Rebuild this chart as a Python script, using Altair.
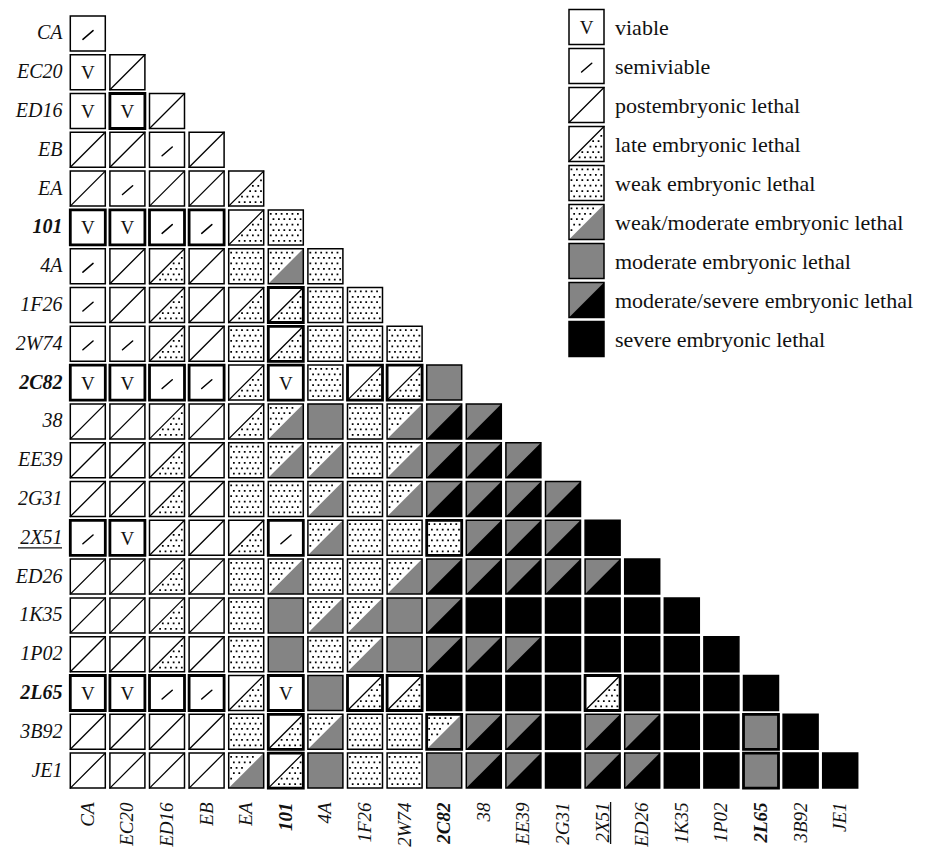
import altair as alt
import pandas as pd

# ---------------- data ----------------
alleles = ["CA", "EC20", "ED16", "EB", "EA", "101", "4A", "1F26", "2W74", "2C82",
           "38", "EE39", "2G31", "2X51", "ED26", "1K35", "1P02", "2L65", "3B92", "JE1"]
bold_alleles = ["101", "2C82", "2L65"]
underlined_allele = "2X51"

# phenotype of each trans-heterozygote: row allele x column allele (lower triangle)
# V viable, S semiviable, P postembryonic lethal, L late embryonic lethal,
# W weak, WM weak/moderate, M moderate, MS moderate/severe, X severe embryonic lethal
phenotype_rows = [
    "S",
    "V P",
    "V V P",
    "P P S P",
    "P S P P L",
    "V V S S L W",
    "S P L P W WM W",
    "S P L P L L W W",
    "S S L P W L W W W",
    "V V S S L V W L L M",
    "P P L P L WM M W WM MS MS",
    "P P L P W WM WM W WM MS MS MS",
    "P P L P W W WM W WM MS MS MS MS",
    "S V L P L S WM W W W MS MS MS X",
    "P P L P W WM W W WM MS MS MS MS MS X",
    "P P L P W M WM WM M MS X X X X X X",
    "P P L P W M W WM M MS MS MS X X X X X",
    "V V S S L V M L L X X X X L X X X X",
    "P P P P W L WM W W WM MS MS X MS MS X X M X",
    "P P P P WM L M W W M MS MS X MS MS X X M X X",
]

# boxes drawn with a heavy outline
thick_border_cells = [
    ("ED16", "EC20"),
    ("101", "CA"), ("101", "EC20"), ("101", "ED16"), ("101", "EB"),
    ("1F26", "101"), ("2W74", "101"),
    ("2C82", "CA"), ("2C82", "EC20"), ("2C82", "ED16"), ("2C82", "EB"),
    ("2C82", "101"), ("2C82", "1F26"), ("2C82", "2W74"),
    ("2X51", "CA"), ("2X51", "EC20"), ("2X51", "101"), ("2X51", "2C82"),
    ("2L65", "CA"), ("2L65", "EC20"), ("2L65", "ED16"), ("2L65", "EB"),
    ("2L65", "101"), ("2L65", "1F26"), ("2L65", "2W74"), ("2L65", "2X51"),
    ("3B92", "101"), ("3B92", "2C82"), ("3B92", "2L65"),
    ("JE1", "101"), ("JE1", "2L65"),
]

legend_codes = ["V", "S", "P", "L", "W", "WM", "M", "MS", "X"]
legend_labels = ["viable", "semiviable", "postembryonic lethal", "late embryonic lethal",
                 "weak embryonic lethal", "weak/moderate embryonic lethal",
                 "moderate embryonic lethal", "moderate/severe embryonic lethal",
                 "severe embryonic lethal"]

# ---------------- styles ----------------
FONT = "Liberation Serif"
CELL = 35
SIZE = CELL * CELL
W, H = 792, 776
XLAB_PAD = 12


def dot_path(region):
    parts = []
    step, d = 0.31, 0.05
    for r in range(6):
        yy = -0.78 + r * step
        off = 0 if r % 2 == 0 else step / 2
        for c in range(7):
            xx = -0.86 + off + c * step
            if xx > 0.9:
                continue
            s = xx + yy
            if region == "lr" and s < 0.18:
                continue
            if region == "ul" and s > -0.18:
                continue
            parts.append(f"M{xx - d:.3f},{yy - d:.3f}h{2 * d:.3f}v{2 * d:.3f}h{-2 * d:.3f}Z")
    return "".join(parts)


shape_paths = {
    "full": "M-1,-1H1V1H-1Z",
    "lr": "M1,-1V1H-1Z",
    "diag": "M-1,1L1,-1",
    "slash": "M-0.28,0.34L0.3,-0.16",
    "dots_full": dot_path("full"),
    "dots_lr": dot_path("lr"),
    "dots_ul": dot_path("ul"),
}
shape_scale = alt.Scale(domain=list(shape_paths), range=list(shape_paths.values()))
fill_scale = alt.Scale(domain=["white", "gray", "black"], range=["#ffffff", "#848484", "#000000"])

fill_parts = {
    "V": ["full:white"], "S": ["full:white"], "P": ["full:white"],
    "L": ["full:white"], "W": ["full:white"],
    "WM": ["full:white", "lr:gray"],
    "M": ["full:gray"],
    "MS": ["full:gray", "lr:black"],
    "X": ["full:black"],
}
dot_parts = {"L": ["dots_lr:black"], "W": ["dots_full:black"], "WM": ["dots_ul:black"]}
line_parts = {"P": ["diag:black"], "L": ["diag:black"], "S": ["slash:black"]}
line_widths = {"diag": 1.3, "slash": 1.5}

thick = set(thick_border_cells)
recs = []
for i, r in enumerate(alleles):
    for j, code in enumerate(phenotype_rows[i].split()):
        c = alleles[j]
        recs.append({"row": r, "col": c, "code": code,
                     "bw": 2.8 if (r, c) in thick else 1.5})
cells = pd.DataFrame(recs)
legend_df = pd.DataFrame({"row": legend_labels, "col": "", "code": legend_codes, "bw": 1.5})


def explode(df, parts):
    out = []
    for rec in df.to_dict("records"):
        for p in parts.get(rec["code"], []):
            shp, fl = p.split(":")
            out.append({**rec, "shape": shp, "fill": fl, "sw": line_widths.get(shp, 1.3)})
    return pd.DataFrame(out)


shape_enc = alt.Shape("shape:N", scale=shape_scale, legend=None)


def cell_layers(df, x, y):
    fills = alt.Chart(explode(df, fill_parts)).mark_point(
        filled=True, opacity=1, strokeWidth=0, size=SIZE
    ).encode(x=x, y=y, shape=shape_enc,
             fill=alt.Fill("fill:N", scale=fill_scale, legend=None))
    dots = alt.Chart(explode(df, dot_parts)).mark_point(
        filled=True, opacity=1, strokeWidth=0, size=SIZE, color="#000000"
    ).encode(x=x, y=y, shape=shape_enc)
    lines = alt.Chart(explode(df, line_parts)).mark_point(
        filled=False, opacity=1, size=SIZE, color="#000000", strokeCap="round"
    ).encode(x=x, y=y, shape=shape_enc,
             strokeWidth=alt.StrokeWidth("sw:Q", scale=None, legend=None))
    borders = alt.Chart(df).mark_point(
        shape="square", filled=False, opacity=1, size=SIZE, color="#000000"
    ).encode(x=x, y=y, strokeWidth=alt.StrokeWidth("bw:Q", scale=None, legend=None))
    vtext = alt.Chart(df[df["code"] == "V"]).mark_text(
        font=FONT, fontSize=19, color="#111111", baseline="middle", dy=1
    ).encode(x=x, y=y, text=alt.value("V"))
    return [fills, dots, lines, borders, vtext]


bold_test = "indexof(['101','2C82','2L65'], datum.value) >= 0"
axis_common = dict(
    title=None, ticks=False, domain=False, labelFont=FONT,
    labelFontStyle="italic", labelColor="#111111", labelOverlap=False,
    labelFontWeight={"condition": {"test": bold_test, "value": "bold"}, "value": "normal"},
)
x_axis = alt.Axis(orient="bottom", labelAngle=270, labelPadding=XLAB_PAD, labelFontSize=19,
                  **axis_common)
y_axis = alt.Axis(orient="left", labelPadding=6, labelFontSize=20, **axis_common)

x_scale = alt.Scale(domain=alleles, paddingInner=0.11, paddingOuter=0.055)
y_scale = alt.Scale(domain=alleles, paddingInner=0.11, paddingOuter=0.055)
x_main = alt.X("col:N", sort=alleles, scale=x_scale, axis=x_axis)
y_main = alt.Y("row:N", sort=alleles, scale=y_scale, axis=y_axis)

main_layers = cell_layers(cells, x_main, y_main)

# underline of the 2X51 labels
ul_row = alt.Chart(pd.DataFrame({"row": [underlined_allele]})).mark_rule(
    color="#111111", strokeWidth=1.3, yOffset=10
).encode(y=y_main, x=alt.value(-50), x2=alt.value(-6))
ul_col = alt.Chart(pd.DataFrame({"col": [underlined_allele]})).mark_rule(
    color="#111111", strokeWidth=1.3, xOffset=8
).encode(x=x_main, y=alt.value(H + XLAB_PAD), y2=alt.value(H + XLAB_PAD + 42))

main = alt.layer(*main_layers, ul_row, ul_col)

# legend
y_leg = alt.Y("row:N", sort=legend_labels,
              scale=alt.Scale(domain=legend_labels, range=[-6.5, 344.5],
                              paddingInner=0.11, paddingOuter=0.055),
              axis=None)
leg_layers = cell_layers(legend_df, alt.value(518.5), y_leg)
leg_text = alt.Chart(legend_df).mark_text(
    align="left", baseline="middle", font=FONT, fontSize=22, color="#111111", dy=1
).encode(x=alt.value(547), y=y_leg, text="row:N")
legend = alt.layer(*leg_layers, leg_text)

chart = alt.layer(main, legend).resolve_scale(y="independent").properties(
    width=W, height=H,
    autosize=alt.AutoSizeParams(type="none"),
    padding={"left": 60, "top": 6, "right": 58, "bottom": 60},
    background="white",
).configure_view(stroke=None)

chart.save("out.html", embed_options={"renderer": "svg", "actions": False})
